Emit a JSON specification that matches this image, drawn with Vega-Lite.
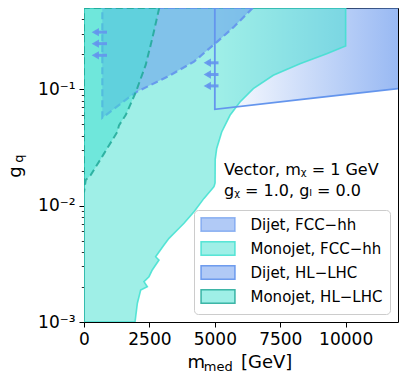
{
  "$schema": "https://vega.github.io/schema/vega-lite/v6.json",
  "width": 314,
  "height": 314,
  "autosize": "none",
  "padding": {"left": 84, "top": 8, "right": 9, "bottom": 59},
  "background": "white",
  "config": {
    "font": "DejaVu Sans",
    "view": {"stroke": null},
    "axis": {
      "grid": false,
      "zindex": 1,
      "domainColor": "#000",
      "domainWidth": 1,
      "tickColor": "#000",
      "tickWidth": 1,
      "labelColor": "#000",
      "titleColor": "#000",
      "titleFontWeight": "normal",
      "labelFont": "DejaVu Sans",
      "titleFont": "DejaVu Sans"
    },
    "legend": {
      "labelFont": "DejaVu Sans",
      "orient": "bottom-right",
      "offset": 8,
      "padding": 7,
      "symbolStrokeWidth": 1.5,
      "labelFontSize": 15,
      "labelColor": "#000",
      "strokeColor": "#cccccc",
      "fillColor": "rgba(255,255,255,0.85)",
      "cornerRadius": 4
    },
    "text": {"font": "DejaVu Sans"}
  },
  "resolve": {"axis": {"x": "independent", "y": "independent"}},
  "layer": [
    {
      "data": {"values": [
        {"m": 5000, "g": 0.0673},
        {"m": 8500, "g": 0.0826},
        {"m": 12000, "g": 0.1014}
      ]},
      "mark": {
        "type": "area",
        "orient": "vertical",
        "clip": true,
        "fill": {
          "gradient": "linear",
          "x1": 0, "y1": 0, "x2": 1, "y2": 0,
          "stops": [
            {"offset": 0, "color": "rgba(100,149,237,0)"},
            {"offset": 1, "color": "rgba(100,149,237,0.66)"}
          ]
        }
      },
      "encoding": {
        "x": {
          "field": "m", "type": "quantitative",
          "scale": {"type": "linear", "domain": [0, 12000], "nice": false, "zero": false},
          "axis": {
            "orient": "bottom",
            "values": [0, 2500, 5000, 7500, 10000],
            "format": "d",
            "tickSize": 5,
            "labelFontSize": 17,
            "labelPadding": 4,
            "labelFlush": false,
            "title": "m",
            "titleFontSize": 18,
            "titleX": 103,
            "titleY": 45.3,
            "titleAlign": "left",
            "titleBaseline": "alphabetic"
          }
        },
        "y": {
          "field": "g", "type": "quantitative",
          "scale": {"type": "log", "domain": [0.001, 0.5], "nice": false},
          "axis": {
            "orient": "left",
            "values": [0.001, 0.01, 0.1],
            "labelExpr": "datum.value < 0.005 ? '10⁻³' : (datum.value < 0.05 ? '10⁻²' : '10⁻¹')",
            "tickSize": 5,
            "labelFontSize": 17,
            "labelPadding": 4,
            "labelBaseline": "middle",
            "title": "g",
            "titleFontSize": 18,
            "titleAngle": -90,
            "titleX": -63.2,
            "titleY": 163.5,
            "titleAlign": "center",
            "titleBaseline": "alphabetic"
          }
        },
        "y2": {"datum": 0.5}
      }
    },
    {
      "data": {"values": [
        {"m": 1950, "g": 0.001, "series": "Monojet, FCC−hh"},
        {"m": 2040, "g": 0.00145, "series": "Monojet, FCC−hh"},
        {"m": 2166, "g": 0.00188, "series": "Monojet, FCC−hh"},
        {"m": 2420, "g": 0.00201, "series": "Monojet, FCC−hh"},
        {"m": 2293, "g": 0.00222, "series": "Monojet, FCC−hh"},
        {"m": 2484, "g": 0.00245, "series": "Monojet, FCC−hh"},
        {"m": 2610, "g": 0.0028, "series": "Monojet, FCC−hh"},
        {"m": 2866, "g": 0.00341, "series": "Monojet, FCC−hh"},
        {"m": 2738, "g": 0.00364, "series": "Monojet, FCC−hh"},
        {"m": 3058, "g": 0.00459, "series": "Monojet, FCC−hh"},
        {"m": 3249, "g": 0.00524, "series": "Monojet, FCC−hh"},
        {"m": 3567, "g": 0.00618, "series": "Monojet, FCC−hh"},
        {"m": 3822, "g": 0.00705, "series": "Monojet, FCC−hh"},
        {"m": 4204, "g": 0.00888, "series": "Monojet, FCC−hh"},
        {"m": 4586, "g": 0.01155, "series": "Monojet, FCC−hh"},
        {"m": 4968, "g": 0.01455, "series": "Monojet, FCC−hh"},
        {"m": 5010, "g": 0.0157, "series": "Monojet, FCC−hh"},
        {"m": 5015, "g": 0.025, "series": "Monojet, FCC−hh"},
        {"m": 5072, "g": 0.031, "series": "Monojet, FCC−hh"},
        {"m": 5263, "g": 0.043, "series": "Monojet, FCC−hh"},
        {"m": 5580, "g": 0.0598, "series": "Monojet, FCC−hh"},
        {"m": 5962, "g": 0.0778, "series": "Monojet, FCC−hh"},
        {"m": 6471, "g": 0.1014, "series": "Monojet, FCC−hh"},
        {"m": 7235, "g": 0.132, "series": "Monojet, FCC−hh"},
        {"m": 8255, "g": 0.166, "series": "Monojet, FCC−hh"},
        {"m": 9276, "g": 0.202, "series": "Monojet, FCC−hh"},
        {"m": 10000, "g": 0.236, "series": "Monojet, FCC−hh"},
        {"m": 10000, "g": 0.5, "series": "Monojet, FCC−hh"}
      ]},
      "mark": {"type": "area", "orient": "horizontal", "clip": true, "strokeWidth": 1.6},
      "encoding": {
        "y": {
          "field": "g", "type": "quantitative",
          "scale": {"type": "log", "domain": [0.001, 0.5], "nice": false},
          "axis": {
            "orient": "left",
            "values": [0.002, 0.003, 0.004, 0.005, 0.006, 0.007, 0.008, 0.009, 0.02, 0.03, 0.04, 0.05, 0.06, 0.07, 0.08, 0.09, 0.2, 0.3, 0.4],
            "labels": false,
            "domain": false,
            "tickSize": 2.7,
            "tickWidth": 0.8,
            "title": "q",
            "titleFontSize": 13,
            "titleAngle": -90,
            "titleX": -61.5,
            "titleY": 150,
            "titleAlign": "center",
            "titleBaseline": "alphabetic"
          }
        },
        "x": {
          "field": "m", "type": "quantitative",
          "scale": {"type": "linear", "domain": [0, 12000], "nice": false, "zero": false},
          "axis": {
            "orient": "bottom",
            "labels": false,
            "ticks": false,
            "domain": false,
            "title": "med",
            "titleFontSize": 13,
            "titleX": 119.3,
            "titleY": 48.5,
            "titleAlign": "left",
            "titleBaseline": "alphabetic"
          }
        },
        "x2": {"datum": 0},
        "fill": {
          "field": "series", "type": "nominal",
          "scale": {
            "domain": ["Dijet, FCC−hh", "Monojet, FCC−hh", "Dijet, HL−LHC", "Monojet, HL−LHC"],
            "range": ["rgba(100,149,237,0.5)", "rgba(64,224,208,0.5)", "rgba(100,149,237,0.5)", "rgba(64,224,208,0.5)"]
          },
          "legend": {"title": null, "symbolType": "M-2.55,-1H2.55V1H-2.55Z", "symbolSize": 177, "symbolOffset": 9.5, "labelOffset": 25, "rowPadding": 3}
        },
        "stroke": {
          "field": "series", "type": "nominal",
          "scale": {
            "domain": ["Dijet, FCC−hh", "Monojet, FCC−hh", "Dijet, HL−LHC", "Monojet, HL−LHC"],
            "range": ["rgba(100,149,237,0.65)", "rgba(64,224,208,0.85)", "rgba(100,149,237,0.92)", "rgba(32,168,152,0.85)"]
          },
          "legend": {"title": null, "symbolType": "M-2.55,-1H2.55V1H-2.55Z", "symbolSize": 177, "symbolOffset": 9.5, "labelOffset": 25, "rowPadding": 3}
        }
      }
    },
    {
      "data": {"values": [
        {"m": 700, "g": 0.057, "series": "Dijet, HL−LHC"},
        {"m": 1976, "g": 0.0942, "series": "Dijet, HL−LHC"},
        {"m": 3184, "g": 0.128, "series": "Dijet, HL−LHC"},
        {"m": 4204, "g": 0.173, "series": "Dijet, HL−LHC"},
        {"m": 5095, "g": 0.257, "series": "Dijet, HL−LHC"},
        {"m": 5733, "g": 0.345, "series": "Dijet, HL−LHC"},
        {"m": 6371, "g": 0.481, "series": "Dijet, HL−LHC"},
        {"m": 6450, "g": 0.5, "series": "Dijet, HL−LHC"}
      ]},
      "mark": {"type": "area", "orient": "horizontal", "clip": true, "strokeWidth": 2.2, "strokeDash": [7, 4]},
      "encoding": {
        "y": {
          "field": "g", "type": "quantitative",
          "scale": {"type": "log", "domain": [0.001, 0.5], "nice": false},
          "axis": {"orient": "right", "labels": false, "ticks": false, "domain": true, "title": null}
        },
        "x": {
          "field": "m", "type": "quantitative",
          "scale": {"type": "linear", "domain": [0, 12000], "nice": false, "zero": false},
          "axis": {
            "orient": "bottom",
            "labels": false,
            "ticks": false,
            "domain": false,
            "title": "[GeV]",
            "titleFontSize": 18,
            "titleX": 156.5,
            "titleY": 45.3,
            "titleAlign": "left",
            "titleBaseline": "alphabetic"
          }
        },
        "x2": {"datum": 700},
        "fill": {
          "field": "series", "type": "nominal",
          "scale": {
            "domain": ["Dijet, FCC−hh", "Monojet, FCC−hh", "Dijet, HL−LHC", "Monojet, HL−LHC"],
            "range": ["rgba(100,149,237,0.5)", "rgba(64,224,208,0.5)", "rgba(100,149,237,0.5)", "rgba(64,224,208,0.5)"]
          },
          "legend": {"title": null, "symbolType": "M-2.55,-1H2.55V1H-2.55Z", "symbolSize": 177, "symbolOffset": 9.5, "labelOffset": 25, "rowPadding": 3}
        },
        "stroke": {
          "field": "series", "type": "nominal",
          "scale": {
            "domain": ["Dijet, FCC−hh", "Monojet, FCC−hh", "Dijet, HL−LHC", "Monojet, HL−LHC"],
            "range": ["rgba(100,149,237,0.65)", "rgba(64,224,208,0.85)", "rgba(100,149,237,0.92)", "rgba(32,168,152,0.85)"]
          },
          "legend": {"title": null, "symbolType": "M-2.55,-1H2.55V1H-2.55Z", "symbolSize": 177, "symbolOffset": 9.5, "labelOffset": 25, "rowPadding": 3}
        }
      }
    },
    {
      "data": {"values": [
        {"m": 0, "g": 0.013, "series": "Monojet, HL−LHC"},
        {"m": 65, "g": 0.0166, "series": "Monojet, HL−LHC"},
        {"m": 255, "g": 0.0183, "series": "Monojet, HL−LHC"},
        {"m": 764, "g": 0.028, "series": "Monojet, HL−LHC"},
        {"m": 1272, "g": 0.043, "series": "Monojet, HL−LHC"},
        {"m": 1338, "g": 0.049, "series": "Monojet, HL−LHC"},
        {"m": 1594, "g": 0.06, "series": "Monojet, HL−LHC"},
        {"m": 1976, "g": 0.094, "series": "Monojet, HL−LHC"},
        {"m": 2358, "g": 0.162, "series": "Monojet, HL−LHC"},
        {"m": 2610, "g": 0.274, "series": "Monojet, HL−LHC"},
        {"m": 2866, "g": 0.49, "series": "Monojet, HL−LHC"},
        {"m": 2880, "g": 0.5, "series": "Monojet, HL−LHC"}
      ]},
      "mark": {"type": "area", "orient": "horizontal", "clip": true, "strokeWidth": 2, "strokeDash": [7, 4]},
      "encoding": {
        "y": {
          "field": "g", "type": "quantitative",
          "scale": {"type": "log", "domain": [0.001, 0.5], "nice": false},
          "axis": null
        },
        "x": {
          "field": "m", "type": "quantitative",
          "scale": {"type": "linear", "domain": [0, 12000], "nice": false, "zero": false},
          "axis": {"orient": "top", "labels": false, "ticks": false, "domain": true, "title": null}
        },
        "x2": {"datum": 0},
        "fill": {
          "field": "series", "type": "nominal",
          "scale": {
            "domain": ["Dijet, FCC−hh", "Monojet, FCC−hh", "Dijet, HL−LHC", "Monojet, HL−LHC"],
            "range": ["rgba(100,149,237,0.5)", "rgba(64,224,208,0.5)", "rgba(100,149,237,0.5)", "rgba(64,224,208,0.5)"]
          },
          "legend": {"title": null, "symbolType": "M-2.55,-1H2.55V1H-2.55Z", "symbolSize": 177, "symbolOffset": 9.5, "labelOffset": 25, "rowPadding": 3}
        },
        "stroke": {
          "field": "series", "type": "nominal",
          "scale": {
            "domain": ["Dijet, FCC−hh", "Monojet, FCC−hh", "Dijet, HL−LHC", "Monojet, HL−LHC"],
            "range": ["rgba(100,149,237,0.65)", "rgba(64,224,208,0.85)", "rgba(100,149,237,0.92)", "rgba(32,168,152,0.85)"]
          },
          "legend": {"title": null, "symbolType": "M-2.55,-1H2.55V1H-2.55Z", "symbolSize": 177, "symbolOffset": 9.5, "labelOffset": 25, "rowPadding": 3}
        }
      }
    },
    {
      "data": {"values": [
        {"m": 5000, "g": 0.5, "o": 1},
        {"m": 5000, "g": 0.0673, "o": 2},
        {"m": 8500, "g": 0.0826, "o": 3},
        {"m": 12000, "g": 0.1014, "o": 4}
      ]},
      "mark": {"type": "line", "clip": true, "color": "#6495ED", "strokeWidth": 1.8},
      "encoding": {
        "x": {"field": "m", "type": "quantitative", "scale": {"type": "linear", "domain": [0, 12000], "nice": false, "zero": false}, "axis": null},
        "y": {"field": "g", "type": "quantitative", "scale": {"type": "log", "domain": [0.001, 0.5], "nice": false}, "axis": null},
        "order": {"field": "o", "type": "quantitative"}
      }
    },
    {
      "data": {"values": [
        {"g": 0.31, "tail": 880, "head": 432},
        {"g": 0.247, "tail": 880, "head": 432},
        {"g": 0.196, "tail": 880, "head": 432},
        {"g": 0.169, "tail": 5140, "head": 4713},
        {"g": 0.134, "tail": 5140, "head": 4713},
        {"g": 0.107, "tail": 5140, "head": 4713}
      ]},
      "layer": [
        {
          "mark": {"type": "rule", "color": "#6495ED", "strokeWidth": 3, "opacity": 0.9},
          "encoding": {
            "x": {"field": "tail", "type": "quantitative", "scale": {"type": "linear", "domain": [0, 12000], "nice": false, "zero": false}, "axis": null},
            "x2": {"field": "head"},
            "y": {"field": "g", "type": "quantitative", "scale": {"type": "log", "domain": [0.001, 0.5], "nice": false}, "axis": null}
          }
        },
        {
          "mark": {"type": "point", "shape": "triangle-left", "filled": true, "color": "#6495ED", "size": 70, "opacity": 0.9},
          "encoding": {
            "x": {"field": "head", "type": "quantitative", "scale": {"type": "linear", "domain": [0, 12000], "nice": false, "zero": false}, "axis": null},
            "y": {"field": "g", "type": "quantitative", "scale": {"type": "log", "domain": [0.001, 0.5], "nice": false}, "axis": null}
          }
        }
      ]
    },
    {
      "data": {"values": [
        {"m": 5351, "g": 0.01834, "t": "Vector, mᵪ = 1 GeV"},
        {"m": 5351, "g": 0.0121, "t": "gᵪ = 1.0, gₗ = 0.0"}
      ]},
      "mark": {"type": "text", "align": "left", "baseline": "alphabetic", "fontSize": 16, "color": "#000"},
      "encoding": {
        "x": {"field": "m", "type": "quantitative", "scale": {"type": "linear", "domain": [0, 12000], "nice": false, "zero": false}, "axis": null},
        "y": {"field": "g", "type": "quantitative", "scale": {"type": "log", "domain": [0.001, 0.5], "nice": false}, "axis": null},
        "text": {"field": "t"}
      }
    }
  ]
}
